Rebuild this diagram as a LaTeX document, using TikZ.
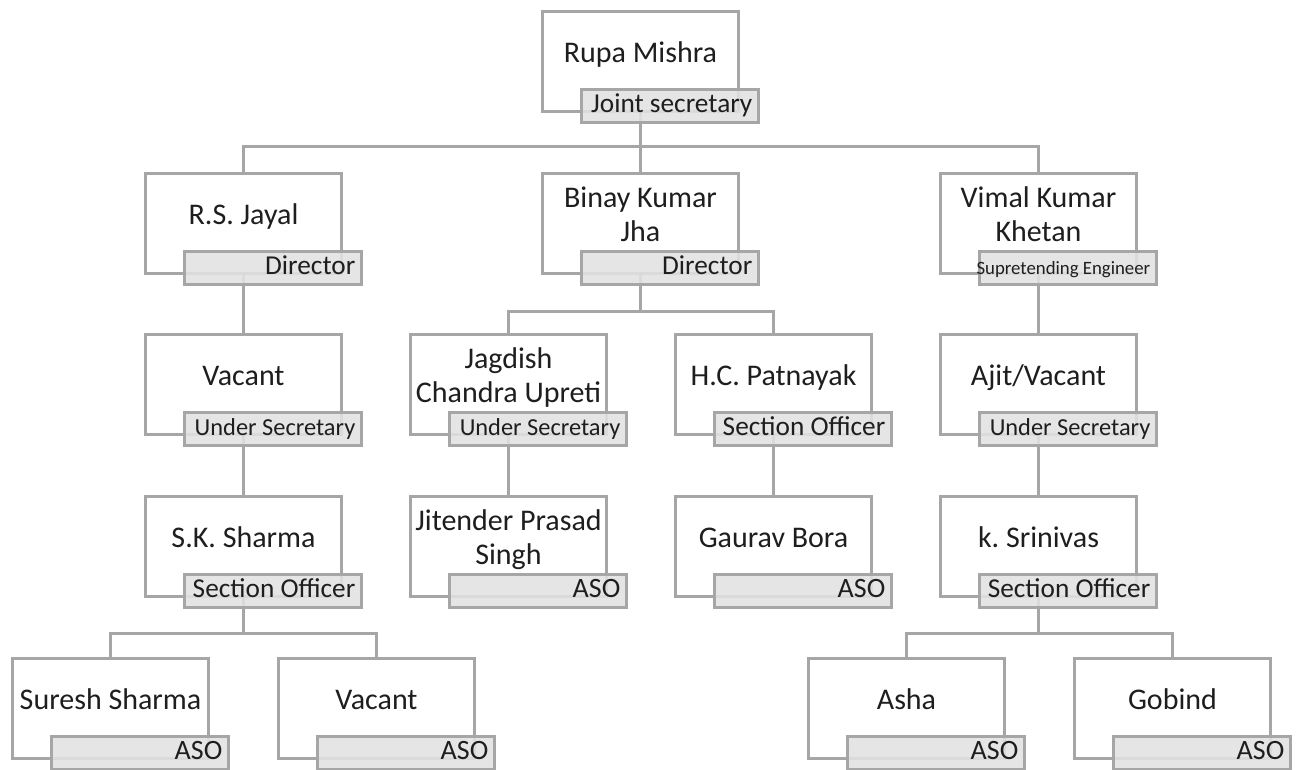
\documentclass[tikz,border=0pt]{standalone}
\usepackage{fontspec}
\setmainfont{Carlito}
\frenchspacing
\usetikzlibrary{calc,backgrounds}
\definecolor{bordergray}{RGB}{166,166,166}
\definecolor{lblfill}{RGB}{226,226,226}
\definecolor{txt}{RGB}{30,30,30}
\tikzset{
 mainbox/.style={draw=bordergray,line width=3pt,fill=white,minimum width=196pt,minimum height=100pt,inner sep=0pt,outer sep=0pt,anchor=north west},
 lblbox/.style={draw=bordergray,line width=3pt,fill=lblfill,fill opacity=0.88,minimum width=177pt,minimum height=33pt,inner sep=0pt,outer sep=0pt,anchor=north west},
 nametext/.style={anchor=base,inner sep=0pt,text=txt,font=\fontsize{30}{34}\selectfont},
 lbltext/.style={anchor=base east,inner sep=0pt,text=txt,font=\fontsize{27.3}{30}\selectfont},
 smalllbl/.style={font=\fontsize{18.8}{22}\selectfont},
 uslbl/.style={font=\fontsize{24.4}{28}\selectfont},
 asolbl/.style={font=\fontsize{28}{30}\selectfont},
 conn/.style={draw=bordergray,line width=3pt},
}
\newcommand\orgbox[7]{%
 \node[mainbox] (#1) at (#2,#3) {};
 \node[nametext] (#1n) at ($(#1.north)+(0,#4)$) {\begin{tabular}[t]{@{}c@{}}#5\end{tabular}};
 \node[lblbox] (#1b) at ($(#1.north west)+(39,78)$) {};
 \node[lbltext,#7] (#1t) at ($(#1b.east)+(-6,6.5)$) {#6};
}
\begin{document}
\begin{tikzpicture}[x=1pt,y=-1pt]
\useasboundingbox (0,0) rectangle (1296,769);
\orgbox{rupa}{542.5}{11.5}{50.5}{Rupa Mishra}{Joint secretary}{}
\orgbox{jayal}{145.5}{173.5}{50.5}{R.S. Jayal}{Director}{}
\orgbox{binay}{542.5}{173.5}{33.5}{Binay Kumar\\Jha}{Director}{}
\orgbox{vimal}{940.5}{173.5}{33.5}{Vimal Kumar\\Khetan}{Supretending Engineer}{smalllbl}
\orgbox{vacA}{145.5}{334.5}{50.5}{Vacant}{Under Secretary}{uslbl}
\orgbox{jag}{410.5}{334.5}{33.5}{Jagdish\\Chandra Upreti}{Under Secretary}{uslbl}
\orgbox{hcp}{675.5}{334.5}{50.5}{H.C. Patnayak}{Section Officer}{}
\orgbox{ajit}{940.5}{334.5}{50.5}{Ajit/Vacant}{Under Secretary}{uslbl}
\orgbox{sks}{145.5}{496.5}{50.5}{S.K. Sharma}{Section Officer}{}
\orgbox{jit}{410.5}{496.5}{33.5}{Jitender Prasad\\Singh}{ASO}{asolbl}
\orgbox{gaurav}{675.5}{496.5}{50.5}{Gaurav Bora}{ASO}{asolbl}
\orgbox{srini}{940.5}{496.5}{50.5}{k. Srinivas}{Section Officer}{}
\orgbox{suresh}{12.5}{658.5}{50.5}{Suresh Sharma}{ASO}{asolbl}
\orgbox{vacB}{278.5}{658.5}{50.5}{Vacant}{ASO}{asolbl}
\orgbox{asha}{808.5}{658.5}{50.5}{Asha}{ASO}{asolbl}
\orgbox{gobind}{1074.5}{658.5}{50.5}{Gobind}{ASO}{asolbl}
\coordinate (busA) at (0,146);
\coordinate (busB) at (0,311);
\coordinate (busC) at (0,633);
\begin{scope}[on background layer]
 \fill[white] (0,0) rectangle (1296,769);
 \draw[conn] (rupa.south) -- (rupa.south |- busA) -| (jayal.north);
 \draw[conn] (rupa.south |- busA) -| (vimal.north);
 \draw[conn] (rupa.south) -- (binay.north);
 \draw[conn] (jayal.south) -- (vacA.north);
 \draw[conn] (vacA.south) -- (sks.north);
 \draw[conn] (sks.south) -- (sks.south |- busC) -| (suresh.north);
 \draw[conn] (sks.south |- busC) -| (vacB.north);
 \draw[conn] (binay.south) -- (binay.south |- busB) -| (jag.north);
 \draw[conn] (binay.south |- busB) -| (hcp.north);
 \draw[conn] (jag.south) -- (jit.north);
 \draw[conn] (hcp.south) -- (gaurav.north);
 \draw[conn] (vimal.south) -- (ajit.north);
 \draw[conn] (ajit.south) -- (srini.north);
 \draw[conn] (srini.south) -- (srini.south |- busC) -| (asha.north);
 \draw[conn] (srini.south |- busC) -| (gobind.north);
\end{scope}
\end{tikzpicture}
\end{document}
